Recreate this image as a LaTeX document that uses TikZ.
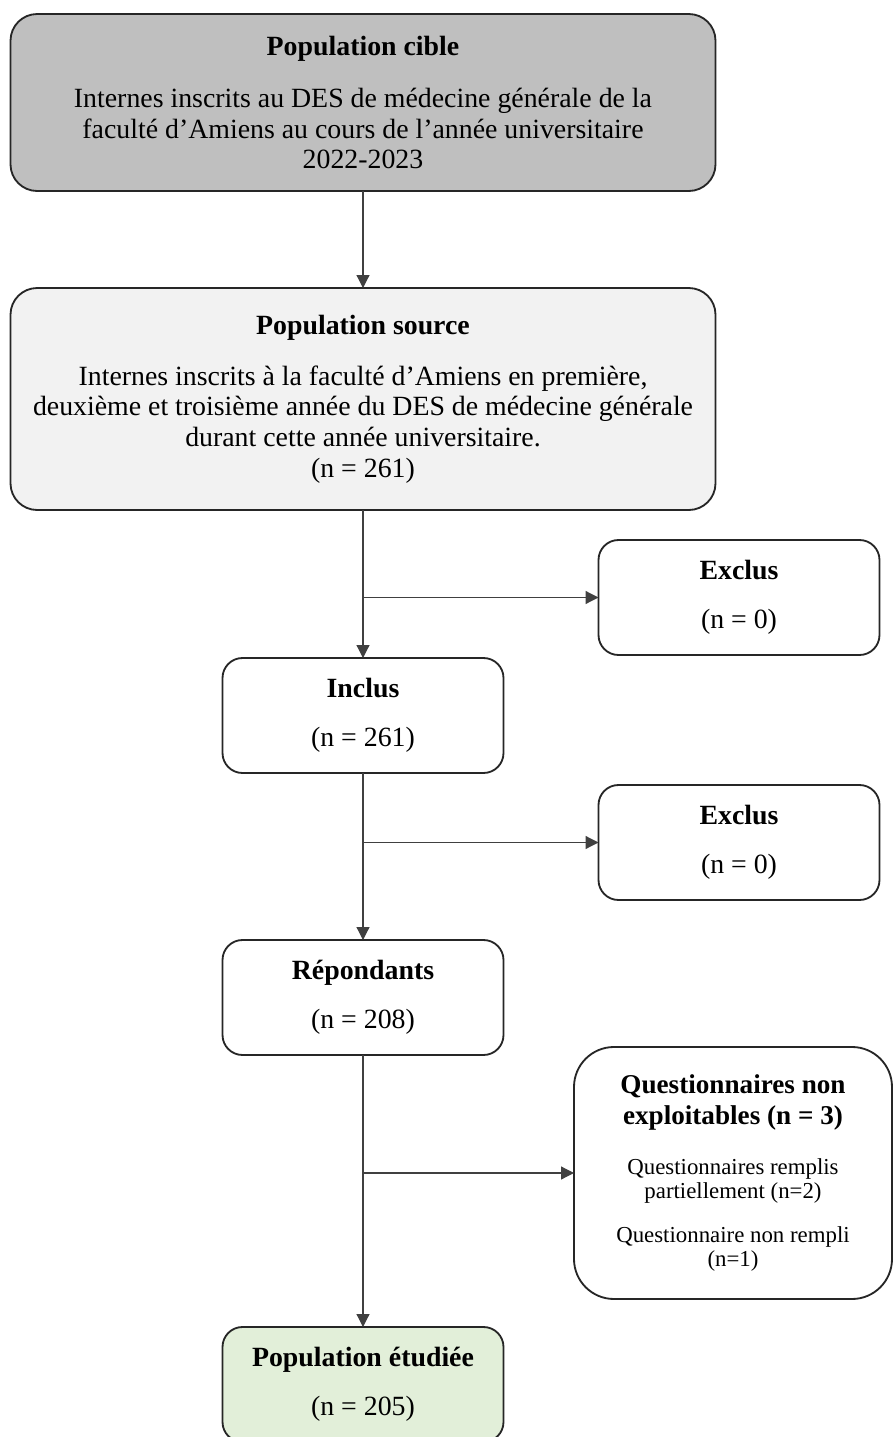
\documentclass[tikz,border=0pt]{standalone}
\usepackage{fontspec}
\setmainfont{Liberation Serif}
\usetikzlibrary{arrows.meta, positioning}
\definecolor{grayDark}{HTML}{BFBFBF}
\definecolor{grayLight}{HTML}{F2F2F2}
\definecolor{greenPale}{HTML}{E2EFD9}
\tikzset{
    >={Triangle[length=7.8pt, width=7.8pt]},
    % Fills
    fillDark/.style={fill=grayDark},
    fillLight/.style={fill=grayLight},
    fillGreen/.style={fill=greenPale},
    % Shapes
    box/.style={rectangle, draw=black!85, line width=1.1pt, fill=white,
                rounded corners=12pt, align=flush center, inner sep=4pt, outer sep=0pt,
                font=\fontsize{16.7}{18.4}\selectfont},
    bigbox/.style={box, rounded corners=16pt, minimum width=423pt, text width=410pt},
    smallbox/.style={box, minimum width=168.6pt, text width=158pt, minimum height=69pt},
    % Flow
    flow/.style={->, line width=0.75pt, black!75}
}

\begin{document}
\begin{tikzpicture}[x=0.6pt, y=-0.6pt]
\useasboundingbox (0,0) rectangle (893,1437);

\node[bigbox, fillDark, minimum height=106.2pt] (cible) at (363,102.5)
    {\textbf{Population cible}\\[13pt]
     Internes inscrits au DES de médecine générale de la\\
     faculté d’Amiens au cours de l’année universitaire\\
     2022-2023};
\node[bigbox, fillLight, minimum height=133.2pt, below=58.2pt of cible] (source)
    {\textbf{Population source}\\[12pt]
     Internes inscrits à la faculté d’Amiens en première,\\
     deuxième et troisième année du DES de médecine générale\\
     durant cette année universitaire.\\
     (n = 261)};

\node[smallbox, below=88.8pt of source] (inclus) {\textbf{Inclus}\\[11pt](n = 261)};
\node[smallbox, below=100.2pt of inclus] (repondants) {\textbf{Répondants}\\[11pt](n = 208)};
\node[smallbox, fillGreen, below=163.2pt of repondants] (etudiee) {\textbf{Population étudiée}\\[11pt](n = 205)};

\node[smallbox, above right=1.8pt and 57pt of inclus] (exclusA) {\textbf{Exclus}\\[11pt](n = 0)};
\node[smallbox, above right=24pt and 57pt of repondants] (exclusB) {\textbf{Exclus}\\[11pt](n = 0)};
\node[box, rounded corners=24pt, minimum width=190.8pt, text width=180pt, minimum height=151.2pt,
      above right=16.8pt and 42.3pt of etudiee] (nonexpl)
    {{\fontsize{16.3}{18.4}\selectfont\bfseries Questionnaires non\\exploitables (n = 3)\par}
     \vspace{15.3pt}
     {\fontsize{13.7}{14.7}\selectfont Questionnaires remplis\\partiellement (n=2)\par}
     \vspace{11.4pt}
     {\fontsize{13.7}{14.7}\selectfont Questionnaire non rempli\\(n=1)\par}};

\coordinate (brA) at (exclusA.west -| inclus.north);
\coordinate (brB) at (exclusB.west -| repondants.north);
\coordinate (brC) at (nonexpl.west -| etudiee.north);

\draw[flow] (cible) -- (source);
\draw[flow] (source) -- (inclus);
\draw[flow] (inclus) -- (repondants);
\draw[flow] (repondants) -- (etudiee);
\draw[flow] (brA) -- (exclusA);
\draw[flow] (brB) -- (exclusB);
\draw[flow] (brC) -- (nonexpl);

\end{tikzpicture}
\end{document}
